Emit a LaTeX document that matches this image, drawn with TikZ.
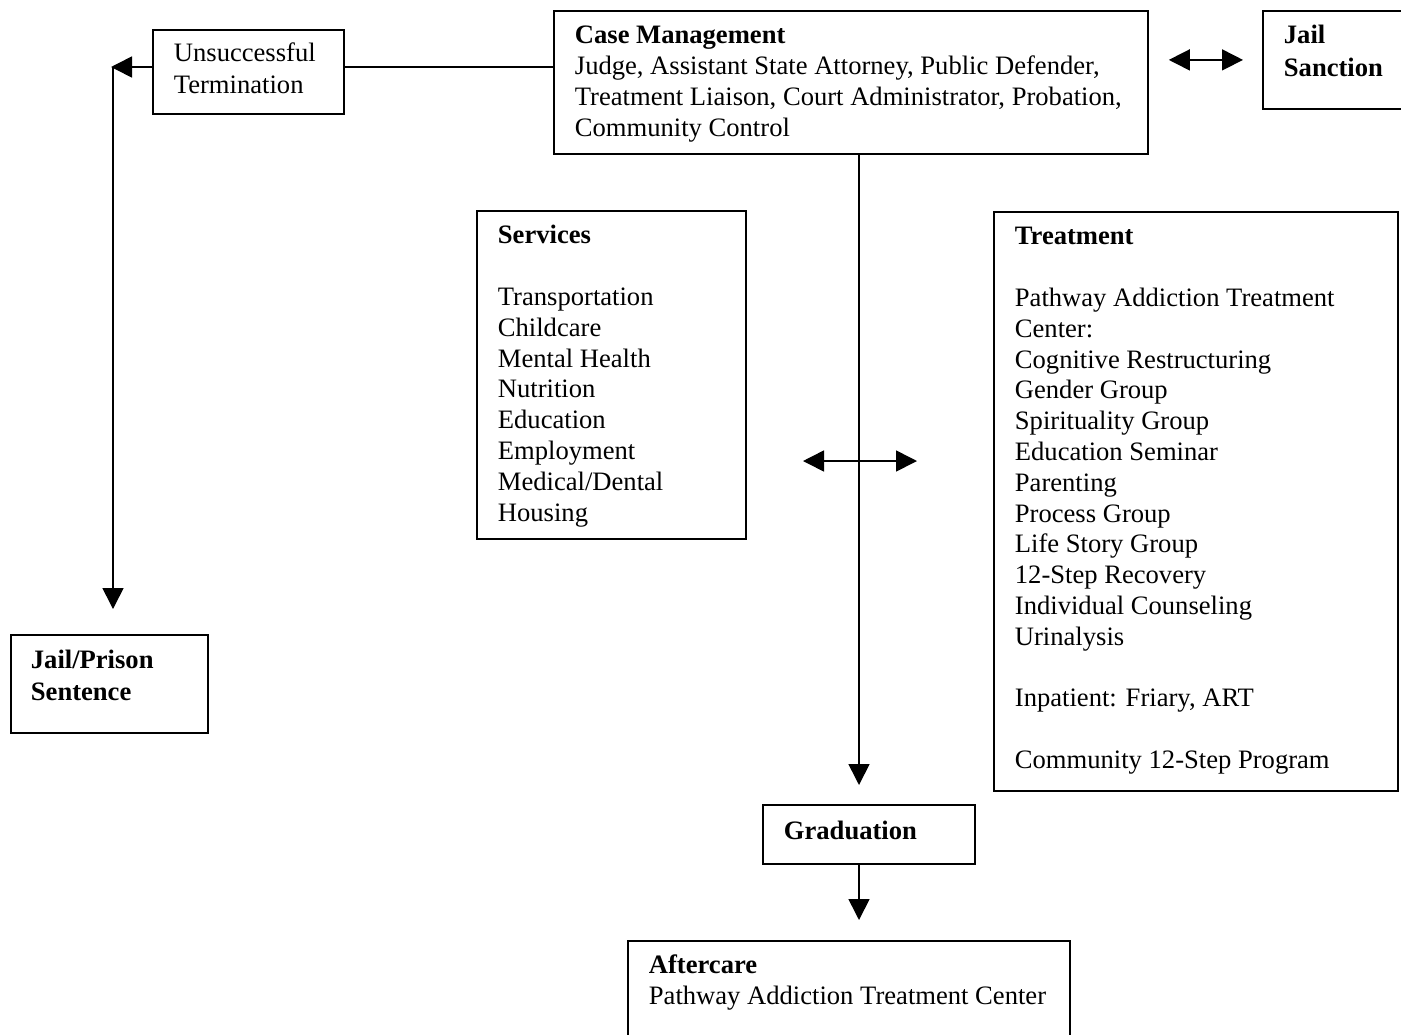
\documentclass[tikz,border=0pt]{standalone}
\usepackage{fontspec}
\setmainfont{Liberation Serif}
\usetikzlibrary{arrows.meta}
\newcommand{\bxc}[5]{\parbox[c][#2][t]{#1}{\raggedright\leftskip=#3\relax\rule{0pt}{#4}#5\par}}
\begin{document}
\begin{tikzpicture}[x=0.5pt,y=-0.5pt,
  box/.style={draw, line width=0.9pt, inner sep=0pt, anchor=north west,
    font=\fontsize{13.3pt}{15.4pt}\selectfont},
  conn/.style={line width=0.8pt},
  tip/.style={-{Triangle[length=10.5pt,width=10.5pt]}},
  dtip/.style={{Triangle[length=10.5pt,width=10.5pt]}-{Triangle[length=10.5pt,width=10.5pt]}}]
\useasboundingbox (0,0) rectangle (1401,1034);
\clip (0,0) rectangle (1401,1034);
\fill[white] (0,0) rectangle (1401,1034);

\node[box] (ut) at (152,29) {\bxc{95.5pt}{42pt}{10.5pt}{16pt}{Unsuccessful\\[0.5pt]Termination}};
\node[box] (cm) at (553,10) {\bxc{297pt}{71.5pt}{10.5pt}{16.5pt}{\textbf{Case Management}\\Judge, Assistant State Attorney, Public Defender,\\Treatment Liaison, Court Administrator, Probation,\\Community Control}};
\node[box] (js) at (1262,10) {\bxc{80pt}{49pt}{10.5pt}{16.5pt}{\textbf{Jail}\\[1pt]\textbf{Sanction}}};
\node[box] (sv) at (476,210) {\bxc{134.5pt}{164pt}{10.5pt}{16.5pt}{\textbf{Services}\\[15.4pt]Transportation\\Childcare\\Mental Health\\Nutrition\\Education\\Employment\\Medical/Dental\\Housing}};
\node[box] (tr) at (993,211) {\bxc{202pt}{289.5pt}{10.5pt}{16.5pt}{\textbf{Treatment}\\[15.4pt]Pathway Addiction Treatment\\Center:\\Cognitive Restructuring\\Gender Group\\Spirituality Group\\Education Seminar\\Parenting\\Process Group\\Life Story Group\\12-Step Recovery\\Individual Counseling\\Urinalysis\\[15.4pt]Inpatient: Friary, ART\\[15.4pt]Community 12-Step Program}};
\node[box] (jp) at (10,634) {\bxc{98.5pt}{49pt}{10pt}{17pt}{\textbf{Jail/Prison}\\[0.5pt]\textbf{Sentence}}};
\node[box] (gr) at (762,804) {\bxc{106pt}{29.5pt}{10.5pt}{17.5pt}{\textbf{Graduation}}};
\node[box] (ac) at (627,940) {\bxc{221pt}{60pt}{10.5pt}{16.5pt}{\textbf{Aftercare}\\Pathway Addiction Treatment Center}};

\coordinate (tl) at (113,67);
\coordinate (vx) at (859,0);
\coordinate (hl) at (803,461);
\coordinate (hr) at (917,461);

\draw[conn] (cm.west |- tl) -- (ut.east |- tl);
\draw[conn,tip] (ut.west |- tl) -- ([xshift=-1pt]tl);
\draw[conn,tip,shorten >=12.5pt] (tl) -- (tl |- jp.north);
\draw[conn,dtip,shorten <=10pt,shorten >=9.5pt] (cm.east |- js.west) -- (js.west);
\draw[conn,tip,shorten >=9.5pt] (cm.south -| vx) -- (gr.north -| vx);
\draw[conn,dtip] (hl) -- (hr);
\draw[conn,tip,shorten >=10pt] (gr.south -| vx) -- (ac.north -| vx);
\end{tikzpicture}
\end{document}
